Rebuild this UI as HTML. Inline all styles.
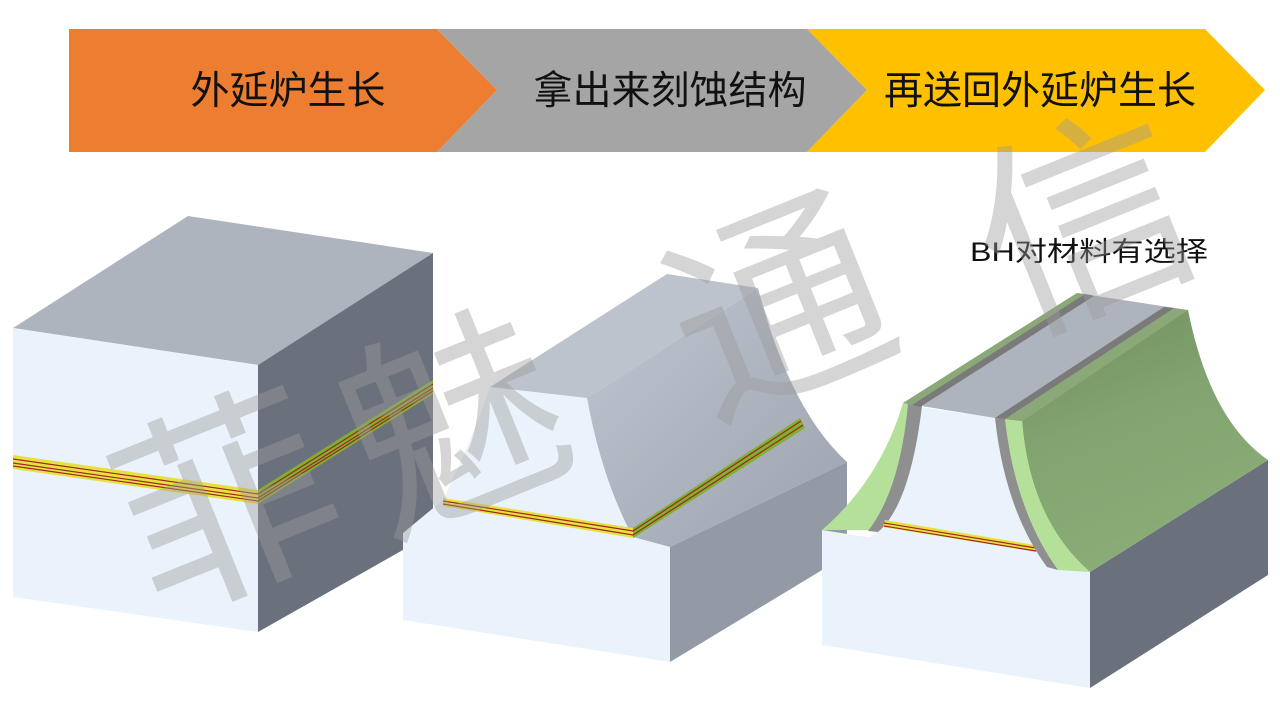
<!DOCTYPE html>
<html><head><meta charset="utf-8"><style>
html,body{margin:0;padding:0;background:#fff;width:1280px;height:720px;overflow:hidden}
svg{display:block}
text{font-family:"Liberation Sans","Noto Sans CJK SC",sans-serif}
</style></head><body>
<svg width="1280" height="720" viewBox="0 0 1280 720" xmlns="http://www.w3.org/2000/svg">
<defs>
<linearGradient id="g2" x1="0" y1="0" x2="1" y2="1">
<stop offset="0" stop-color="#BFC6D0"/><stop offset="1" stop-color="#9CA3AE"/></linearGradient>
<linearGradient id="gg" x1="0" y1="0" x2="0.4" y2="1">
<stop offset="0" stop-color="#6E8C5A"/><stop offset="0.5" stop-color="#82A470"/><stop offset="1" stop-color="#8AAD77"/></linearGradient>
</defs>
<!-- banner -->
<polygon points="69,29 437,29 497,90 437,152 69,152" fill="#ED7D31"/>
<polygon points="437,29 807,29 867,90 807,152 437,152 497,90" fill="#A5A5A5"/>
<polygon points="807,29 1205,29 1265,90 1205,152 807,152 867,90" fill="#FFC000"/>
<text x="288" y="104" font-size="39" text-anchor="middle" fill="#111">外延炉生长</text>
<text x="670" y="104" font-size="39" text-anchor="middle" fill="#111">拿出来刻蚀结构</text>
<text x="1040" y="104" font-size="39" text-anchor="middle" fill="#111">再送回外延炉生长</text>

<!-- block 1 -->
<polygon points="13,328 188,216 433,253 258,365" fill="#AEB4BE"/>
<polygon points="13,328 258,365 258,632 13,597" fill="#EAF3FC"/>
<polygon points="258,365 433,253 433,533 258,632" fill="#6B717C"/>
<polygon points="13,455 258,490 258,504 13,469" fill="#E8E040"/>
<polygon points="258,490 433,380 433,394 258,504" fill="#7FB030"/>
<g stroke="#A0281E" stroke-width="1.2" fill="none">
<polyline points="13,459 258,494 433,384"/><polyline points="13,463 258,498 433,388"/><polyline points="13,466 258,501 433,391"/>
</g>

<!-- block 2 -->
<path d="M403,533 L443,500 Q472,440 490,387 L587,398 Q602,480 633,537 L670,547 L670,662 L403,620 Z" fill="#EAF3FC"/>
<polygon points="490,387 667,274 758,288 587,398" fill="#BCC3CC"/>
<path d="M587,398 L758,288 Q790,410 847,462 L670,547 L633,537 Q602,480 587,398 Z" fill="url(#g2)"/>
<polygon points="670,547 847,462 847,555 670,662" fill="#939AA5"/>
<polygon points="443,498 633,528 633,538 443,506" fill="#E8E040"/>
<polygon points="633,528 800,418 805,428 633,538" fill="#7FB030"/>
<g stroke="#A0281E" stroke-width="1.2" fill="none">
<polyline points="443,501 633,531 801,421"/><polyline points="443,504 633,535 803,425"/>
</g>

<!-- block 3 -->
<polygon points="822,530 1090,572 1090,688 822,645" fill="#EAF3FC"/>
<polygon points="1090,572 1268,460 1268,575 1090,688" fill="#6B717C"/>
<!-- mesa front -->
<path d="M920,407 L995,418 Q1005,510 1050,570 L866,541 Q912,500 920,407 Z" fill="#EAF3FC"/>
<!-- left green -->
<path d="M903,403 L920,405 Q905,500 870,530 L822,530 Q880,480 903,403 Z" fill="#B5E09A"/>
<path d="M908,404 L922,406 Q910,505 878,532 L868,531 Q900,490 908,404 Z" fill="#8F8F8F"/>
<polygon points="885,520 1035,545 1037,552 883,527" fill="#E8E040"/>
<g stroke="#A0281E" stroke-width="1.2"><line x1="884" y1="523" x2="1036" y2="548"/><line x1="884" y1="526" x2="1036" y2="551"/></g>
<!-- right green surface (full) -->
<path d="M995,418 L1188,310 Q1210,420 1268,460 L1090,572 Q1030,520 1022,421 Z" fill="url(#gg)"/>
<path d="M1005,419 L1022,421 Q1030,520 1090,572 L1058,570 Q1015,510 1005,419 Z" fill="#B5E09A"/>
<path d="M995,418 L1005,419 Q1015,510 1058,570 L1047,567 Q1005,510 995,418 Z" fill="#8F8F8F"/>
<!-- top -->
<polygon points="903,403 1077,293 1188,310 1022,421 995,418" fill="#AEB4BE"/>
<polygon points="903,403 1077,293 1092,295 918,406" fill="#8AA878"/>
<polygon points="912,405 1085,294 1094,296 920,407" fill="#7A7A7A"/>
<polygon points="1003,419 1172,308 1188,310 1022,421" fill="#8AA878"/>
<polygon points="995,418 1164,307 1174,308 1005,419" fill="#7A7A7A"/>

<text x="970" y="261" font-size="27" textLength="238" lengthAdjust="spacingAndGlyphs" fill="#111">BH对材料有选择</text>

<!-- watermark -->
<g fill="#9A9A9A" fill-opacity="0.42" font-size="215" text-anchor="middle" dominant-baseline="central">
<text transform="translate(228,505) rotate(-22)">菲</text>
<text transform="translate(455,425) rotate(-22)">魅</text>
<text transform="translate(780,310) rotate(-22)">通</text>
<text transform="translate(1085,225) rotate(-22)">信</text>
</g>
</svg>
</body></html>
